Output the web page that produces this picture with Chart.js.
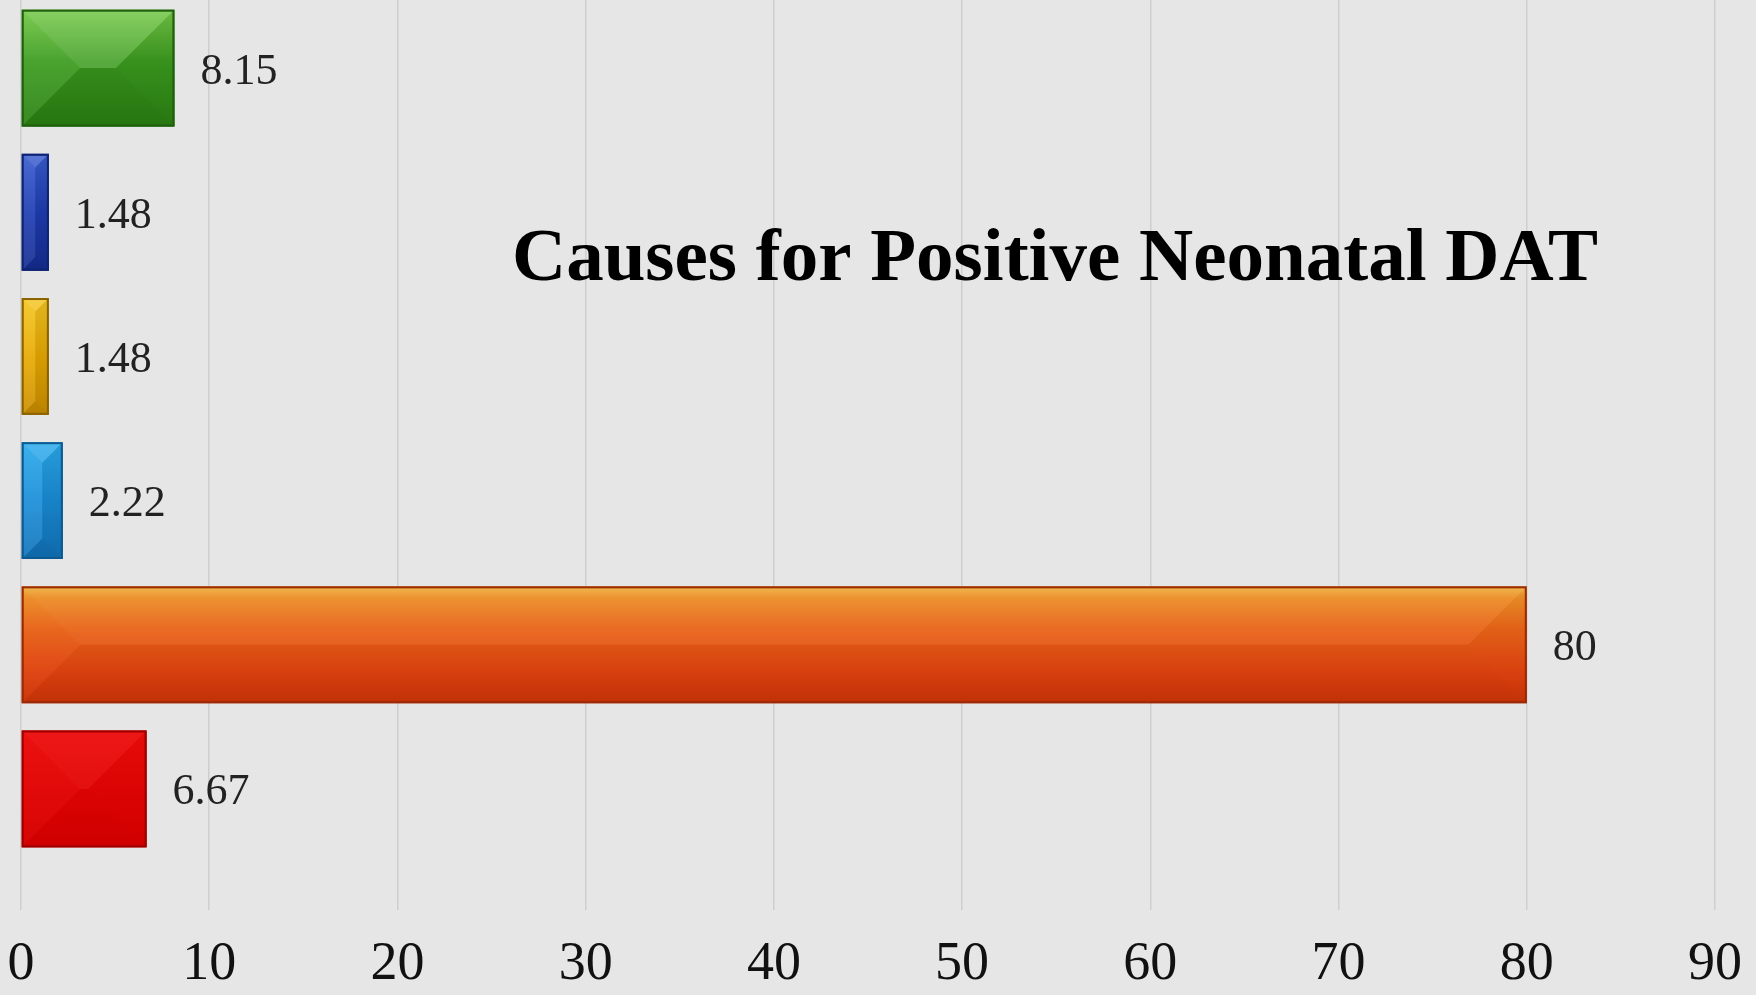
<!DOCTYPE html>
<html>
<head>
<meta charset="utf-8">
<script src="https://cdn.jsdelivr.net/npm/chart.js@4/dist/chart.umd.min.js"></script>
<style>
  html, body { margin: 0; padding: 0; background: #e6e6e6; overflow: hidden; }
  #wrap { position: absolute; left: 0; top: -4px; width: 1756px; height: 999px; }
</style>
</head>
<body>
<div id="wrap"><canvas id="chart" width="1756" height="999"></canvas></div>
<script>
// Categories listed top to bottom, with their percentages
const categories = ['Cause A', 'Cause B', 'Cause C', 'Cause D', 'Cause E', 'Cause F'];
const values = [8.15, 1.48, 1.48, 2.22, 80, 6.67];
const xTicks = [0, 10, 20, 30, 40, 50, 60, 70, 80, 90];
const chartTitle = 'Causes for Positive Neonatal DAT';

// Bar styling: vertical gradient stops, edge colour and bevel strength
const barGradients = [
  [[0, '#74c847'], [0.45, '#3c9c1f'], [1, '#2b8112']],
  [[0, '#3a5dd0'], [0.5, '#1f3db2'], [1, '#152d92']],
  [[0, '#f4c622'], [0.5, '#e8aa02'], [1, '#cc8e00']],
  [[0, '#2aaaec'], [0.5, '#1a8ed8'], [1, '#1173ba']],
  [[0, '#efb646'], [0.1, '#ec8c26'], [0.36, '#e86418'], [0.72, '#e04410'], [1, '#c93208']],
  [[0, '#ec0c0c'], [0.5, '#e20505'], [1, '#d60000']]
];
const barEdges = ['#1f5f0e', '#0f2373', '#8a6300', '#0d5a90', '#9c2a04', '#a00000'];
const bevelStrength = [0.9, 1, 1, 1, 0.35, 0.3];

function shape(ctx, pts, fill) {
  ctx.beginPath();
  ctx.moveTo(pts[0][0], pts[0][1]);
  for (let k = 1; k < pts.length; k++) ctx.lineTo(pts[k][0], pts[k][1]);
  ctx.closePath();
  ctx.fillStyle = fill;
  ctx.fill();
}

// Redraws each bar as a bevelled block, using the geometry computed by the bar controller
const bevelBars = {
  id: 'bevelBars',
  afterDatasetsDraw(chart) {
    const ctx = chart.ctx;
    const meta = chart.getDatasetMeta(0);
    meta.data.forEach((bar, i) => {
      const p = bar.getProps(['x', 'y', 'base', 'height'], true);
      const l = Math.min(p.base, p.x), r = Math.max(p.base, p.x);
      const t = p.y - p.height / 2, b = p.y + p.height / 2;
      const w = r - l, h = b - t;
      const d = Math.min(w / 2, h / 2);
      const s = bevelStrength[i];
      ctx.save();
      const g = ctx.createLinearGradient(0, t, 0, b);
      barGradients[i].forEach(([o, c]) => g.addColorStop(o, c));
      ctx.fillStyle = g;
      ctx.fillRect(l, t, w, h);
      shape(ctx, [[l, t], [r, t], [r - d, t + d], [l + d, t + d]], `rgba(255,255,255,${0.16 * s})`);
      shape(ctx, [[l, t], [l + d, t + d], [l + d, b - d], [l, b]], `rgba(255,255,255,${0.08 * s})`);
      shape(ctx, [[r, t], [r, b], [r - d, b - d], [r - d, t + d]], `rgba(0,0,0,${0.08 * s})`);
      shape(ctx, [[l, b], [l + d, b - d], [r - d, b - d], [r, b]], `rgba(0,0,0,${0.10 * s})`);
      ctx.strokeStyle = barEdges[i];
      ctx.lineWidth = 2;
      ctx.strokeRect(l + 1, t + 1, w - 2, h - 2);
      ctx.restore();
    });
  }
};

// Value labels just past the end of each bar
const valueLabels = {
  id: 'valueLabels',
  afterDatasetsDraw(chart) {
    const ctx = chart.ctx;
    const meta = chart.getDatasetMeta(0);
    ctx.save();
    ctx.font = '44px "Liberation Serif", "Times New Roman", serif';
    ctx.fillStyle = '#222222';
    ctx.textAlign = 'left';
    ctx.textBaseline = 'middle';
    meta.data.forEach((bar, i) => {
      const p = bar.getProps(['x', 'y', 'base'], true);
      ctx.fillText(String(values[i]), Math.max(p.x, p.base) + 26, p.y + 4);
    });
    ctx.restore();
  }
};

// Large bold heading placed inside the plot
const heading = {
  id: 'heading',
  afterDraw(chart) {
    const ctx = chart.ctx;
    ctx.save();
    ctx.font = 'bold 75px "Liberation Serif", "Times New Roman", serif';
    ctx.fillStyle = '#000000';
    ctx.textAlign = 'center';
    ctx.textBaseline = 'alphabetic';
    ctx.fillText(chartTitle, 1055, 284);
    ctx.restore();
  }
};

new Chart(document.getElementById('chart'), {
  type: 'bar',
  data: {
    labels: categories,
    datasets: [{
      data: values,
      backgroundColor: barEdges,
      borderWidth: 0,
      categoryPercentage: 1,
      barPercentage: 0.81
    }]
  },
  options: {
    indexAxis: 'y',
    responsive: false,
    animation: false,
    devicePixelRatio: 1,
    layout: { padding: { left: 21, right: 41, top: 0, bottom: 0 } },
    plugins: { legend: { display: false }, tooltip: { enabled: false }, title: { display: false } },
    scales: {
      x: {
        type: 'linear',
        min: 0,
        max: 90,
        afterBuildTicks: scale => { scale.ticks = xTicks.map(v => ({ value: v })); },
        afterFit: scale => {
          scale.height = 134;
          scale.paddingLeft = 0;
          scale.paddingRight = 0;
        },
        grid: { color: '#cecece', lineWidth: 1.5, tickLength: 49, tickColor: '#cecece' },
        border: { display: false },
        ticks: {
          font: { family: '"Liberation Serif", "Times New Roman", serif', size: 54 },
          color: '#111111',
          padding: 22,
          maxRotation: 0,
          autoSkip: false
        }
      },
      y: { display: false }
    }
  },
  plugins: [bevelBars, valueLabels, heading]
});
</script>
</body>
</html>
